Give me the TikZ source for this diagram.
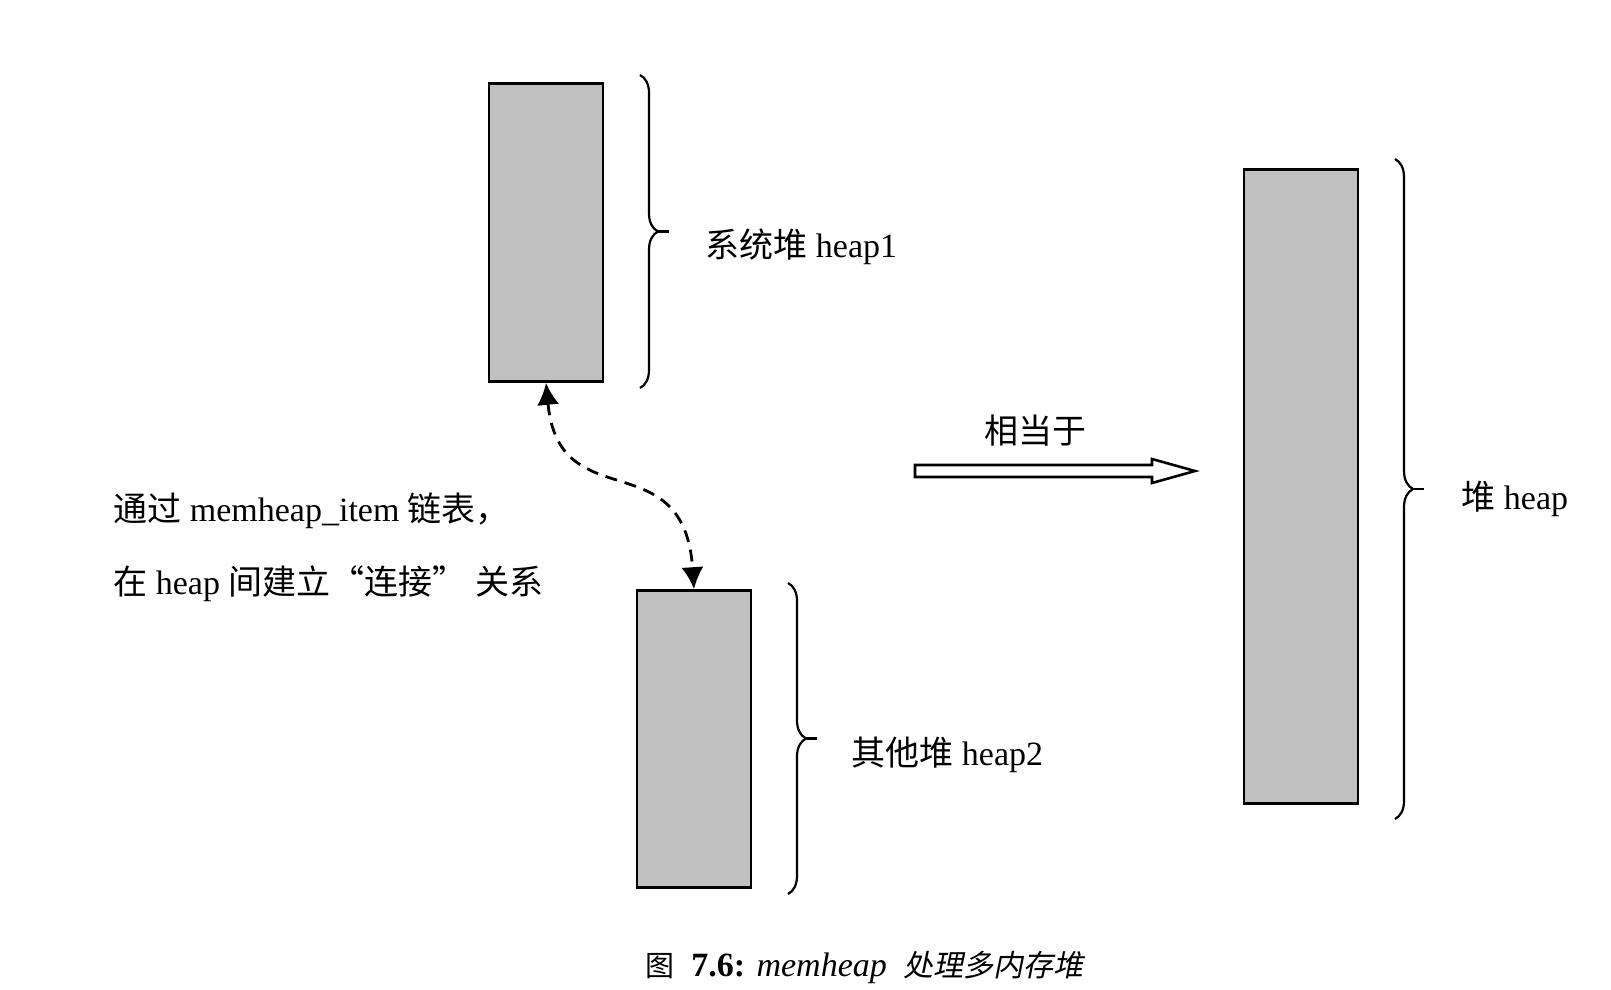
\documentclass[tikz,border=0pt]{standalone}
\usepackage{fontspec}
\setmainfont{Liberation Serif}
\newfontfamily\cjk{Noto Sans CJK SC}
\newfontfamily\cjkslant[FakeSlant=0.2]{Noto Sans CJK SC}
\usetikzlibrary{arrows.meta,decorations.pathreplacing}
\definecolor{heapgray}{RGB}{192,192,192}

\begin{document}
\begin{tikzpicture}[x=0.5pt, y=-0.5pt,
  heapbox/.style={draw, line width=1.3pt, fill=heapgray, inner sep=0pt, minimum width=57pt},
  heapbrace/.style={decorate, decoration={brace, amplitude=9pt}, line width=1.1pt},
  lbl/.style={font=\fontsize{17}{20}\selectfont, inner sep=0pt, anchor=base west}]
\useasboundingbox (0,0) rectangle (1611,990);
% heaps
\node[heapbox, minimum height=149pt] (heap1) at (546,232.5) {};
\node[heapbox, minimum height=148.5pt] (heap2) at (694,739) {};
\node[heapbox, minimum height=317pt] (heap3) at (1301,486.5) {};
% braces
\draw[heapbrace] (640,75) -- (640,388);
\draw[line width=1.3pt] (657,231.5) -- +(12,0);
\draw[heapbrace] (788,583) -- (788,894);
\draw[line width=1.3pt] (805,738.5) -- +(12,0);
\draw[heapbrace] (1395,159) -- (1395,819);
\draw[line width=1.3pt] (1412,489) -- +(12,0);
\node[lbl] (name1) at (705,257) {{\cjk 系统堆} heap1};
\node[lbl] (name2) at (851,765) {{\cjk 其他堆} heap2};
\node[lbl] (name3) at (1461,509) {{\cjk 堆} heap};
% link between heaps
\draw[dash pattern=on 6pt off 4pt, line width=1.4pt,
  {Latex[length=11pt,width=11pt]}-{Latex[length=11pt,width=11pt]}]
  (heap1.south) .. controls +(13,137) and +(-10,-149) .. (heap2.north);
\node[lbl] (note1) at (113,521) {{\cjk 通过} memheap\_item {\cjk 链表，}};
\node[lbl] (note2) at (113,594) {{\cjk 在} heap {\cjk 间建立“连接”} {\cjk 关系}};
% equivalent
\draw[line width=1.3pt, fill=white] (915,465) -- (1152,465) -- (1152,459) -- (1195,471)
  -- (1152,483) -- (1152,477) -- (915,477) -- cycle;
\node[lbl] (equiv) at (984,443) {\cjk 相当于};
% caption
\node[anchor=base west, inner sep=0pt, font=\fontsize{17}{20}\selectfont] (cap) at (645,976)
  {{\fontsize{14.5}{17}\selectfont\cjk 图}\ \ \textbf{7.6:} \textit{memheap}\ \ {\fontsize{15}{17}\selectfont\cjkslant 处理多内存堆}};
\end{tikzpicture}
\end{document}
